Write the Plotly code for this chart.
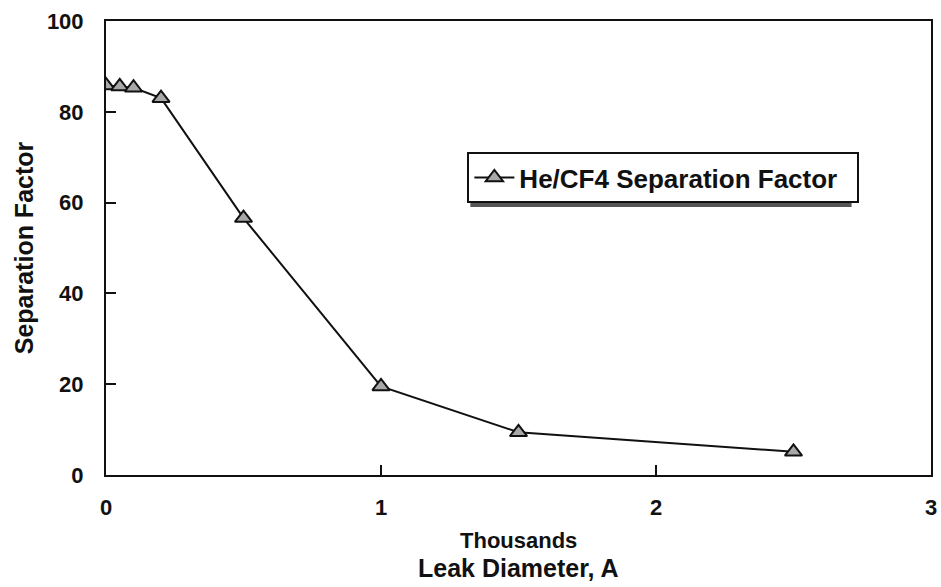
import plotly.graph_objects as go

# Leak diameter in thousands of angstroms, and the He/CF4 separation factor
leak_diameter_k = [0.0, 0.05, 0.1, 0.2, 0.5, 1.0, 1.5, 2.5]
separation_factor = [85.8, 85.6, 85.3, 83.0, 56.6, 19.5, 9.4, 5.1]

x_ticks = [0, 1, 2, 3]
y_ticks = [0, 20, 40, 60, 80, 100]

W, H = 941, 587
L, R, T, B = 106, 4, 21, 112
font_family = "Liberation Sans, Arial, sans-serif"
ink = "#111111"

fig = go.Figure()
fig.add_trace(go.Scatter(
    x=leak_diameter_k,
    y=separation_factor,
    mode="lines+markers",
    name="<b>He/CF4 Separation Factor</b>&nbsp;&nbsp;",
    line=dict(color=ink, width=2),
    marker=dict(symbol="triangle-up", size=15, color="#a8a8a8",
                line=dict(color=ink, width=2)),
))

# Legend drop shadow (pixel box converted into paper coordinates)
pw, ph = W - L - R, H - T - B
def px_x(v):
    return (v - L) / pw
def px_y(v):
    return (H - B - v) / ph

fig.add_shape(type="rect", xref="paper", yref="paper",
              x0=px_x(473), x1=px_x(857), y0=px_y(207), y1=px_y(157),
              fillcolor="#555555", line=dict(width=0), layer="above")

fig.update_layout(
    width=W, height=H,
    margin=dict(l=L, r=R, t=T, b=B, pad=0),
    paper_bgcolor="white", plot_bgcolor="white",
    font=dict(family=font_family, color=ink, size=22),
    showlegend=True,
    legend=dict(
        x=px_x(470), y=px_y(152), xanchor="left", yanchor="top",
        bgcolor="white", bordercolor=ink, borderwidth=2,
        font=dict(size=26, family=font_family, color=ink),
        itemwidth=40, tracegroupgap=0,
    ),
    xaxis=dict(
        range=[0, 3], tickvals=x_ticks,
        ticktext=[f"<b>{v}</b>" for v in x_ticks],
        showgrid=False, zeroline=False,
        showline=True, linecolor=ink, linewidth=2, mirror=True,
        ticks="inside", ticklen=10, tickwidth=2, tickcolor=ink,
        ticklabelstandoff=12, ticklabeloverflow="allow",
        tickfont=dict(size=22),
    ),
    yaxis=dict(
        range=[0, 100], tickvals=y_ticks,
        ticktext=[f"<b>{v}</b>" for v in y_ticks],
        showgrid=False, zeroline=False,
        showline=True, linecolor=ink, linewidth=2, mirror=True,
        ticks="inside", ticklen=10, tickwidth=2, tickcolor=ink,
        ticklabelstandoff=16, ticklabeloverflow="allow",
        tickfont=dict(size=22),
        title=dict(text="<b>Separation Factor</b>", font=dict(size=25), standoff=6),
    ),
)

fig.add_annotation(text="<b>Thousands</b>", xref="paper", yref="paper",
                   x=0.5, y=px_y(540), xanchor="center", yanchor="middle",
                   showarrow=False, font=dict(size=22))
fig.add_annotation(text="<b>Leak Diameter, A</b>", xref="paper", yref="paper",
                   x=0.5, y=px_y(568), xanchor="center", yanchor="middle",
                   showarrow=False, font=dict(size=25))

fig.write_html("out.html")
